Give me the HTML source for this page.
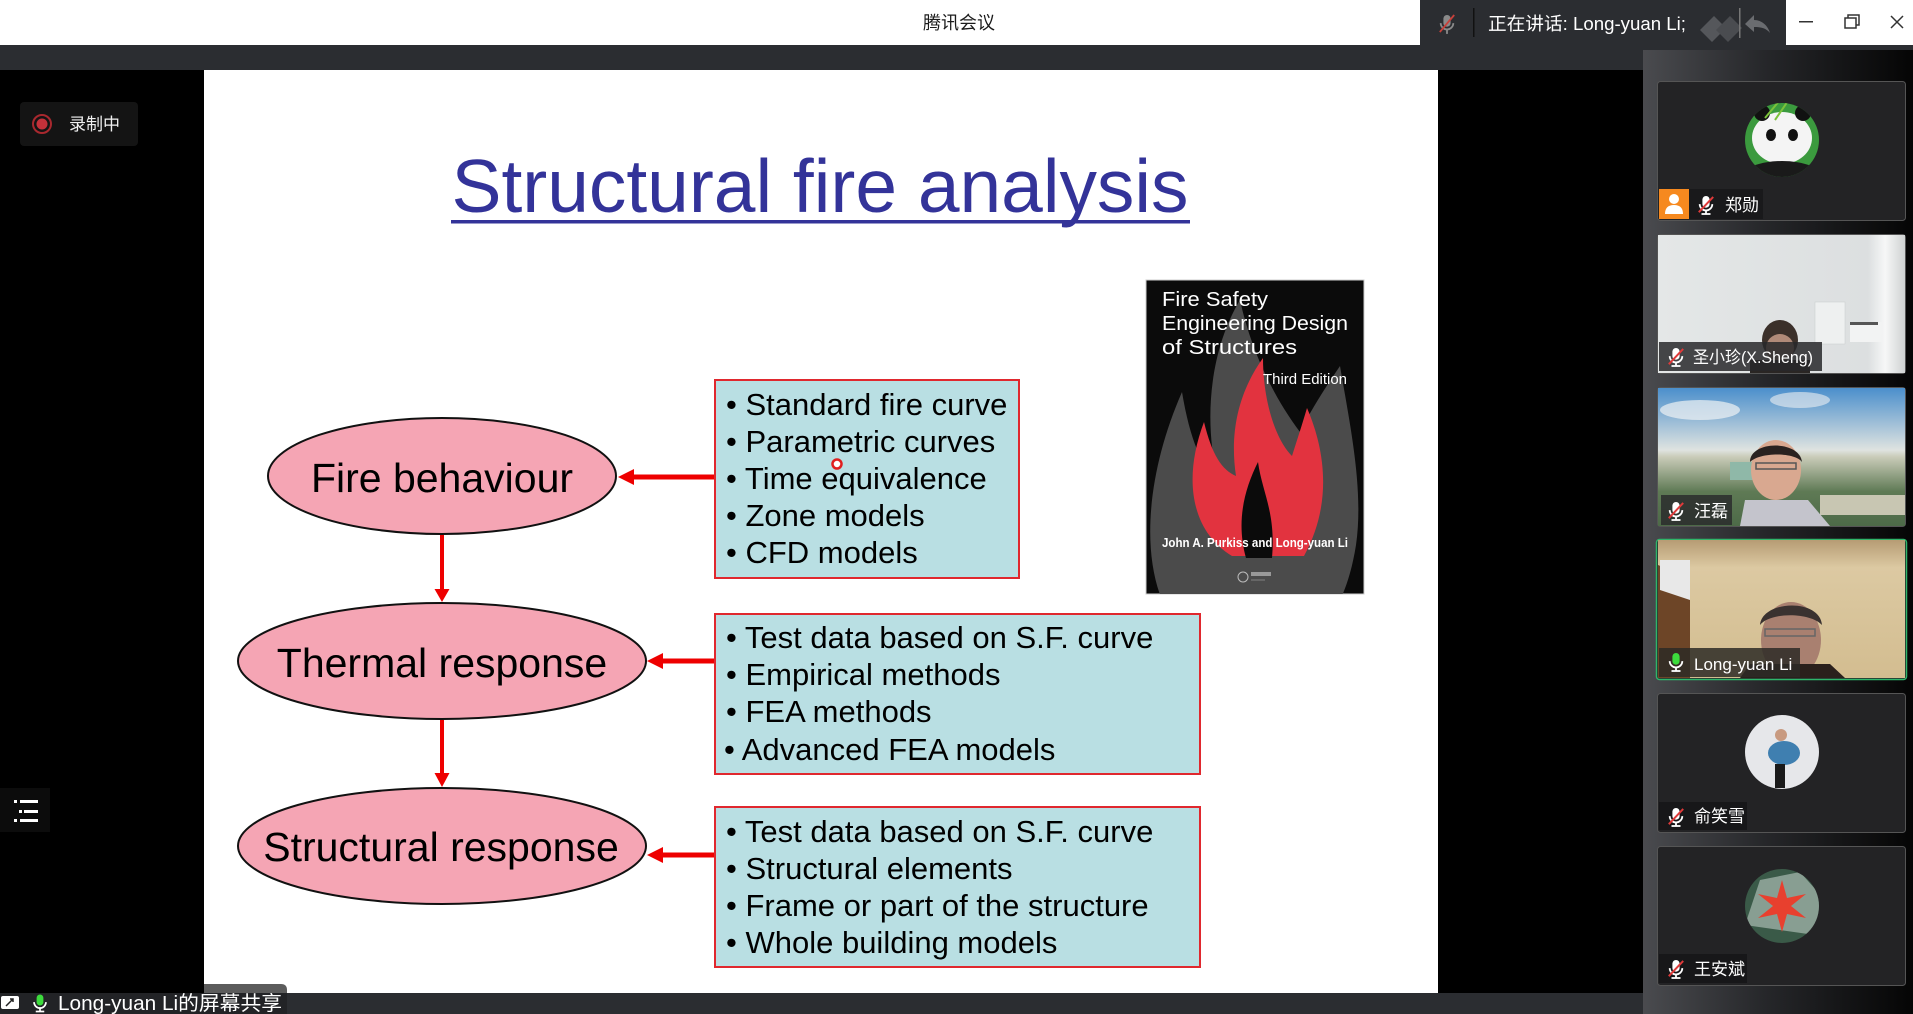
<!DOCTYPE html>
<html><head><meta charset="utf-8">
<style>
html,body{margin:0;padding:0;background:#000;}
body{width:1913px;height:1014px;position:relative;overflow:hidden;font-family:"Liberation Sans","Noto Sans CJK SC",sans-serif;}
svg{position:absolute;left:0;top:0;}
</style></head><body>
<svg width="1913" height="1014" viewBox="0 0 1913 1014" xmlns="http://www.w3.org/2000/svg">
<defs>
<linearGradient id="rp" x1="0" y1="0" x2="1" y2="0">
<stop offset="0" stop-color="#4a4b4f"/><stop offset="0.45" stop-color="#26272a"/><stop offset="1" stop-color="#050505"/>
</linearGradient>
<linearGradient id="sky" x1="0" y1="0" x2="0" y2="1">
<stop offset="0" stop-color="#4b8fcc"/><stop offset="0.45" stop-color="#dfe3e0"/><stop offset="0.5" stop-color="#c9cbb8"/><stop offset="0.75" stop-color="#5f7a55"/><stop offset="1" stop-color="#4d6a48"/>
</linearGradient>
<linearGradient id="wall" x1="0" y1="0" x2="0" y2="1">
<stop offset="0" stop-color="#b69c74"/><stop offset="0.2" stop-color="#dcc9a2"/><stop offset="1" stop-color="#d3bd90"/>
</linearGradient>
<linearGradient id="room" x1="0" y1="0" x2="1" y2="0">
<stop offset="0" stop-color="#e4e7e7"/><stop offset="0.85" stop-color="#dcdfe0"/><stop offset="0.92" stop-color="#f6f7f7"/><stop offset="1" stop-color="#cfd2d2"/>
</linearGradient>
<g id="mic">
<rect x="-4" y="-10" width="8" height="13" rx="4" fill="#fff"/>
<path d="M-7,-1 A7,7 0 0 0 7,-1" fill="none" stroke="#fff" stroke-width="2"/>
<rect x="-1" y="5" width="2" height="5" fill="#fff"/>
<rect x="-5" y="9" width="10" height="2" fill="#fff"/>
<line x1="-8" y1="8" x2="8" y2="-9" stroke="#e03a3a" stroke-width="2.2"/>
</g>
<g id="gmic">
<rect x="-4" y="-10" width="8" height="13" rx="4" fill="#3ddc3d"/>
<path d="M-7,-1 A7,7 0 0 0 7,-1" fill="none" stroke="#fff" stroke-width="2"/>
<rect x="-1" y="5" width="2" height="5" fill="#fff"/>
<rect x="-5" y="9" width="10" height="2" fill="#fff"/>
</g>
<clipPath id="c1"><circle cx="1782" cy="140" r="37"/></clipPath>
<clipPath id="c5"><circle cx="1782" cy="752" r="37"/></clipPath>
<clipPath id="c6"><circle cx="1782" cy="906" r="37"/></clipPath>
<clipPath id="t2"><rect x="1658" y="235" width="247" height="138"/></clipPath>
<clipPath id="t3"><rect x="1658" y="388" width="247" height="138"/></clipPath>
<clipPath id="t4"><rect x="1658" y="540" width="247" height="138"/></clipPath>
<clipPath id="bk"><rect x="1146" y="280" width="218" height="314"/></clipPath>
</defs>

<!-- title bar -->
<rect x="0" y="0" width="1913" height="45" fill="#ffffff"/>
<text x="959" y="29" font-size="18" text-anchor="middle" fill="#1b1b1b" font-family="Noto Sans CJK SC, sans-serif">腾讯会议</text>
<rect x="1420" y="0" width="366" height="45" fill="#2b2d31"/>
<g transform="translate(1447,24) scale(0.9)"><rect x="-4" y="-10" width="8" height="13" rx="4" fill="#8a8a8a"/><path d="M-7,-1 A7,7 0 0 0 7,-1" fill="none" stroke="#8a8a8a" stroke-width="2"/><rect x="-1" y="5" width="2" height="6" fill="#8a8a8a"/><line x1="-8" y1="9" x2="8" y2="-10" stroke="#c8403a" stroke-width="2"/></g>
<rect x="1473" y="8" width="1.5" height="29" fill="#111"/>
<text x="1488" y="30" font-size="18" fill="#ffffff" font-family="Liberation Sans, Noto Sans CJK SC, sans-serif" textLength="198" lengthAdjust="spacingAndGlyphs">正在讲话: Long-yuan Li;</text>
<path d="M1700,30 L1714,16 L1726,28 L1712,42 Z" fill="#55575b"/>
<path d="M1716,30 L1730,16 L1742,28 L1728,42 Z" fill="#4a4c50"/>
<rect x="1739" y="8" width="1.5" height="30" fill="#777"/>
<path d="M1745,24 L1754,15 L1754,20 C1762,20 1768,26 1770,33 C1766,28 1761,27 1754,27 L1754,32 Z" fill="#6a6c70"/>
<rect x="1799" y="21" width="14" height="1.5" fill="#333"/>
<rect x="1845" y="18" width="11" height="10" fill="none" stroke="#333" stroke-width="1.5"/>
<path d="M1848,18 L1848,15 L1859,15 L1859,25 L1856,25" fill="none" stroke="#333" stroke-width="1.5"/>
<path d="M1891,16 L1903,28 M1903,16 L1891,28" stroke="#333" stroke-width="1.5"/>

<!-- dark bar -->
<rect x="0" y="45" width="1913" height="25" fill="#2b2d31"/>
<!-- right panel -->
<rect x="1643" y="50" width="270" height="964" fill="url(#rp)"/>

<!-- left controls -->
<rect x="20" y="102" width="118" height="44" rx="4" fill="#141414"/>
<circle cx="42" cy="124" r="9" fill="none" stroke="#a8282e" stroke-width="2"/>
<circle cx="42" cy="124" r="5.5" fill="#c4313a"/>
<text x="69" y="130" font-size="17" fill="#f0f0f0" font-family="Noto Sans CJK SC, sans-serif">录制中</text>
<rect x="0" y="788" width="50" height="44" fill="#0c0c0c"/>
<g fill="#ffffff"><rect x="14" y="800" width="3" height="3"/><rect x="20" y="800" width="18" height="3"/><rect x="19" y="810" width="3" height="3"/><rect x="24" y="810" width="14" height="3"/><rect x="14" y="819" width="3" height="3"/><rect x="20" y="819" width="18" height="3"/></g>

<!-- slide -->
<rect x="204" y="70" width="1234" height="923" fill="#ffffff"/>
<text x="820" y="212" font-size="75" text-anchor="middle" fill="#333399" textLength="737" lengthAdjust="spacingAndGlyphs">Structural fire analysis</text>
<rect x="451" y="220" width="739" height="3.5" fill="#333399"/>

<!-- ellipses -->
<ellipse cx="442" cy="476" rx="174" ry="58" fill="#f5a5b4" stroke="#111" stroke-width="2"/>
<ellipse cx="442" cy="661" rx="204" ry="58" fill="#f5a5b4" stroke="#111" stroke-width="2"/>
<ellipse cx="442" cy="846" rx="204" ry="58" fill="#f5a5b4" stroke="#111" stroke-width="2"/>
<text x="442" y="492" font-size="41" text-anchor="middle" fill="#000">Fire behaviour</text>
<text x="442" y="677" font-size="41" text-anchor="middle" fill="#000">Thermal response</text>
<text x="441" y="861" font-size="41" text-anchor="middle" fill="#000">Structural response</text>

<!-- vertical arrows -->
<rect x="440" y="535" width="4" height="56" fill="#ee0000"/>
<polygon points="434.5,589 449.5,589 442,602" fill="#ee0000"/>
<rect x="440" y="720" width="4" height="55" fill="#ee0000"/>
<polygon points="434.5,773 449.5,773 442,787" fill="#ee0000"/>

<!-- boxes -->
<rect x="715" y="380" width="304" height="198" fill="#b9dfe3" stroke="#e0282e" stroke-width="2"/>
<rect x="715" y="614" width="485" height="160" fill="#b9dfe3" stroke="#e0282e" stroke-width="2"/>
<rect x="715" y="807" width="485" height="160" fill="#b9dfe3" stroke="#e0282e" stroke-width="2"/>

<!-- horizontal arrows -->
<rect x="632" y="474.5" width="82" height="5" fill="#ee0000"/>
<polygon points="618,477 634,469 634,485" fill="#ee0000"/>
<rect x="661" y="658.5" width="53" height="5" fill="#ee0000"/>
<polygon points="647,661 663,653 663,669" fill="#ee0000"/>
<rect x="661" y="852.5" width="53" height="5" fill="#ee0000"/>
<polygon points="647,855 663,847 663,863" fill="#ee0000"/>

<g font-size="31" fill="#000">
<text x="726" y="415">• Standard fire curve</text>
<text x="726" y="452">• Parametric curves</text>
<text x="726" y="489">• Time equivalence</text>
<text x="726" y="526">• Zone models</text>
<text x="726" y="563">• CFD models</text>
<text x="726" y="648">• Test data based on S.F. curve</text>
<text x="726" y="685">• Empirical methods</text>
<text x="726" y="722">• FEA methods</text>
<text x="724" y="760">• Advanced FEA models</text>
<text x="726" y="842">• Test data based on S.F. curve</text>
<text x="726" y="879">• Structural elements</text>
<text x="726" y="916">• Frame or part of the structure</text>
<text x="726" y="953">• Whole building models</text>
</g>
<circle cx="837" cy="464" r="4.5" fill="#fff" stroke="#e02020" stroke-width="2.5"/>

<!-- book -->
<rect x="1146" y="280" width="218" height="314" fill="#0b0b0b" stroke="#cccccc" stroke-width="1"/>
<g clip-path="url(#bk)">
<path d="M1162,600 C1140,545 1150,465 1182,392 C1190,440 1202,468 1218,480 C1203,420 1210,350 1240,300 C1252,355 1276,400 1300,432 C1311,410 1325,388 1340,366 C1350,425 1364,490 1356,545 C1352,570 1346,588 1340,600 Z" fill="#4b4b4b"/>
<path d="M1232,556 C1192,532 1182,480 1204,422 C1212,455 1222,470 1236,476 C1229,430 1240,390 1263,358 C1263,402 1276,440 1292,456 C1297,440 1302,425 1307,408 C1326,452 1332,505 1304,556 Z" fill="#e2333f"/>
<path d="M1246,558 C1236,522 1244,490 1258,462 C1262,492 1276,512 1272,558 Z" fill="#0b0b0b"/>
</g>
<g fill="#ffffff">
<text x="1162" y="306" font-size="20" textLength="106" lengthAdjust="spacingAndGlyphs">Fire Safety</text>
<text x="1162" y="330" font-size="20" textLength="186" lengthAdjust="spacingAndGlyphs">Engineering Design</text>
<text x="1162" y="354" font-size="20" textLength="135" lengthAdjust="spacingAndGlyphs">of Structures</text>
<text x="1263" y="384" font-size="15" textLength="84" lengthAdjust="spacingAndGlyphs">Third Edition</text>
<text x="1162" y="547" font-size="12.5" font-weight="bold" textLength="186" lengthAdjust="spacingAndGlyphs">John A. Purkiss and Long-yuan Li</text>
</g>
<circle cx="1243" cy="577" r="5" fill="none" stroke="#bbb" stroke-width="1"/>
<rect x="1251" y="572" width="20" height="4" fill="#999"/>
<rect x="1251" y="579" width="14" height="2" fill="#666"/>

<!-- bottom bar -->
<rect x="0" y="993" width="1643" height="21" fill="#2b2d31"/>
<path d="M204,984 L281,984 Q287,984 287,990 L287,993 L204,993 Z" fill="#5c5c5c"/>
<rect x="0" y="993" width="287" height="21" fill="#222326"/>
<rect x="1" y="996" width="18" height="13" rx="2" fill="#fff"/>
<path d="M6,1006 L13,999 M10,999 L13,999 L13,1002" stroke="#222" stroke-width="1.5" fill="none"/>
<g transform="translate(40,1003) scale(0.85)"><use href="#gmic"/></g>
<text x="58" y="1010" font-size="20" fill="#ffffff" font-family="Liberation Sans, Noto Sans CJK SC, sans-serif" textLength="224" lengthAdjust="spacingAndGlyphs">Long-yuan Li的屏幕共享</text>

<!-- tiles -->
<g stroke="#555" stroke-width="1">
<rect x="1657.5" y="81.5" width="248" height="139" rx="3" fill="#232325"/>
<rect x="1657.5" y="234.5" width="248" height="139" rx="3" fill="#232325"/>
<rect x="1657.5" y="387.5" width="248" height="139" rx="3" fill="#232325"/>
<rect x="1657.5" y="693.5" width="248" height="139" rx="3" fill="#232325"/>
<rect x="1657.5" y="846.5" width="248" height="139" rx="3" fill="#232325"/>
</g>
<rect x="1656.5" y="539.5" width="250" height="140" rx="3" fill="#232325" stroke="#2fb56a" stroke-width="1.5"/>

<!-- tile1 panda -->
<g clip-path="url(#c1)">
<rect x="1740" y="100" width="90" height="80" fill="#3b9a3e"/>
<ellipse cx="1782" cy="138" rx="30" ry="26" fill="#f4f4f4"/>
<circle cx="1762" cy="113" r="8" fill="#111"/>
<circle cx="1803" cy="113" r="8" fill="#111"/>
<ellipse cx="1771" cy="135" rx="5" ry="6" fill="#111"/>
<ellipse cx="1793" cy="135" rx="5" ry="6" fill="#111"/>
<ellipse cx="1782" cy="177" rx="40" ry="16" fill="#1a1a1a"/>
<path d="M1765,118 L1780,100 M1775,120 L1790,98" stroke="#7bc23a" stroke-width="2"/>
</g>
<rect x="1659" y="189" width="30" height="30" fill="#f6891f"/>
<circle cx="1674" cy="199" r="5" fill="#fff"/>
<path d="M1665,214 Q1665,205 1674,205 Q1683,205 1683,214 Z" fill="#fff"/>
<rect x="1689" y="189" width="74" height="30" fill="#19191b"/>
<g transform="translate(1706,205) scale(0.9)"><use href="#mic"/></g>
<text x="1725" y="211" font-size="17" fill="#fff" font-family="Noto Sans CJK SC, sans-serif">郑勋</text>

<!-- tile2 -->
<g clip-path="url(#t2)">
<rect x="1658" y="235" width="247" height="138" fill="url(#room)"/>
<rect x="1815" y="302" width="30" height="42" fill="#eef0f0" stroke="#c8cccc" stroke-width="0.5"/>
<rect x="1850" y="322" width="32" height="20" fill="#f2f3f3"/>
<rect x="1850" y="322" width="28" height="3" fill="#555"/>
<ellipse cx="1780" cy="340" rx="18" ry="20" fill="#3b302a"/>
<ellipse cx="1780" cy="348" rx="14" ry="14" fill="#b08a78"/>
<rect x="1750" y="360" width="60" height="15" fill="#2a2624"/>
</g>
<rect x="1659" y="342" width="163" height="29" fill="rgba(40,40,42,0.85)"/>
<g transform="translate(1676,357) scale(0.9)"><use href="#mic"/></g>
<text x="1693" y="363" font-size="17" fill="#fff" font-family="Liberation Sans, Noto Sans CJK SC, sans-serif" textLength="120" lengthAdjust="spacingAndGlyphs">圣小珍(X.Sheng)</text>

<!-- tile3 -->
<g clip-path="url(#t3)">
<rect x="1658" y="388" width="247" height="138" fill="url(#sky)"/>
<ellipse cx="1700" cy="410" rx="40" ry="10" fill="#f0f2f4" opacity="0.7"/>
<ellipse cx="1800" cy="400" rx="30" ry="8" fill="#eef0f2" opacity="0.6"/>
<rect x="1820" y="495" width="85" height="20" fill="#c8c6b2"/>
<rect x="1730" y="462" width="30" height="18" fill="#8fb8a8"/>
<ellipse cx="1776" cy="470" rx="25" ry="30" fill="#d9a890"/>
<path d="M1750,462 C1750,440 1800,440 1802,462 C1795,452 1760,452 1750,462 Z" fill="#2a2220"/>
<rect x="1756" y="463" width="40" height="6" fill="none" stroke="#555" stroke-width="1.5"/>
<path d="M1740,526 L1745,500 L1808,500 L1830,526 Z" fill="#c4c4cc"/>
</g>
<rect x="1661" y="495" width="71" height="30" fill="rgba(40,40,42,0.8)"/>
<g transform="translate(1676,511) scale(0.9)"><use href="#mic"/></g>
<text x="1694" y="517" font-size="17" fill="#fff" font-family="Noto Sans CJK SC, sans-serif">汪磊</text>

<!-- tile4 -->
<g clip-path="url(#t4)">
<rect x="1658" y="540" width="247" height="138" fill="url(#wall)"/>
<path d="M1658,565 L1690,578 L1690,678 L1658,678 Z" fill="#6d4527"/>
<path d="M1660,560 L1690,560 L1690,600 L1660,590 Z" fill="#e8e8e8"/>
<ellipse cx="1791" cy="640" rx="30" ry="38" fill="#a98070"/>
<path d="M1760,625 C1762,600 1820,598 1822,625 C1810,612 1770,612 1760,625 Z" fill="#3a3230"/>
<rect x="1765" y="629" width="50" height="7" fill="none" stroke="#666" stroke-width="1.5"/>
<path d="M1740,678 L1750,664 L1830,664 L1845,678 Z" fill="#2a201c"/>
</g>
<rect x="1659" y="648" width="141" height="29" fill="rgba(45,42,38,0.85)"/>
<g transform="translate(1676,662) scale(0.9)"><use href="#gmic"/></g>
<text x="1694" y="670" font-size="17" fill="#fff">Long-yuan Li</text>

<!-- tile5 -->
<g clip-path="url(#c5)">
<rect x="1740" y="710" width="90" height="90" fill="#e6e7ea"/>
<ellipse cx="1784" cy="753" rx="16" ry="12" fill="#3f7fb0"/>
<circle cx="1781" cy="735" r="6" fill="#c89a80"/>
<rect x="1775" y="764" width="10" height="24" fill="#1a1a1a"/>
</g>
<rect x="1659" y="802" width="88" height="28" fill="rgba(22,22,24,0.9)"/>
<g transform="translate(1676,817) scale(0.9)"><use href="#mic"/></g>
<text x="1694" y="822" font-size="17" fill="#fff" font-family="Noto Sans CJK SC, sans-serif">俞笑雪</text>

<!-- tile6 -->
<g clip-path="url(#c6)">
<rect x="1740" y="865" width="90" height="90" fill="#3a5a48"/>
<path d="M1745,925 L1760,880 L1800,872 L1825,900 L1815,935 Z" fill="#d6e2dc" opacity="0.5"/>
<path d="M1782,880 L1787,898 L1806,894 L1791,906 L1806,918 L1787,914 L1782,932 L1777,914 L1758,918 L1773,906 L1758,894 L1777,898 Z" fill="#e8402e"/>
</g>
<rect x="1659" y="954" width="88" height="29" fill="rgba(22,22,24,0.9)"/>
<g transform="translate(1676,969) scale(0.9)"><use href="#mic"/></g>
<text x="1694" y="975" font-size="17" fill="#fff" font-family="Noto Sans CJK SC, sans-serif">王安斌</text>
</svg>
</body></html>
